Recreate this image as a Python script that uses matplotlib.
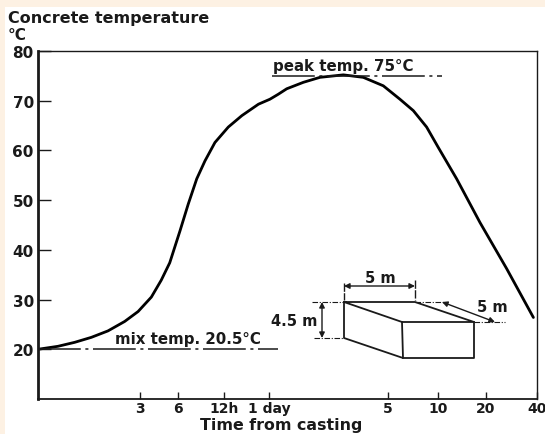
import numpy as np
import matplotlib
matplotlib.use('Agg')
import matplotlib.pyplot as plt
from matplotlib.patches import Rectangle

# curve, time in hours
hours = [1, 1.24, 1.485, 1.776, 2.125, 2.544, 2.94, 3.69, 4.42, 5.16, 6.18,
         7.0, 7.96, 9.01, 10.47, 12.82, 15.8, 20.4, 24.3, 27.2, 30.5, 38.2, 47.8,
         65.6, 85.9, 112.6, 141.6, 170.5, 205, 241, 314, 440, 636, 914]
temps = [20, 20.6, 21.4, 22.4, 23.7, 25.6, 27.6, 30.5, 33.9, 37.4, 43.8,
         49.2, 54.3, 57.9, 61.6, 64.7, 67, 69.3, 70.3, 71.3, 72.4, 73.7, 74.7,
         75.2, 74.7, 73, 70.3, 68, 64.7, 60.6, 54.3, 45.5, 36.2, 26.4]

tick_hours = [3, 6, 12, 24, 120, 240, 480, 960]
tick_labels = ['3', '6', '12h', '1 day', '5', '10', '20', '40']
y_ticks = [20, 30, 40, 50, 60, 70, 80]

mix_temp = 20
peak_temp = 75

# the printed time axis is not a clean log scale, so map it by its tick positions
scale_hours = np.log([1, 3, 6, 12, 24, 120, 240, 480, 960])
scale_pos = np.array([38, 140, 178, 224, 269, 388, 438, 486, 537.0])

def forward(v):
    return np.interp(np.log(np.maximum(v, 1e-3)), scale_hours, scale_pos)

def inverse(v):
    return np.exp(np.interp(v, scale_pos, scale_hours))

W, H = 545, 435
ink = '#1a1a1a'
font = 'DejaVu Sans'

fig = plt.figure(figsize=(W / 100, H / 100), dpi=100, facecolor='#fdf1e3')
fig.patches.append(Rectangle((5 / W, 0), 1, 1 - 8 / H, transform=fig.transFigure,
                             facecolor='white', edgecolor='none', zorder=-5))

ax = fig.add_axes([38 / W, 1 - 400 / H, (537 - 38) / W, (400 - 52) / H])
ax.patch.set_alpha(0)
ax.set_xscale('function', functions=(forward, inverse))
ax.set_xlim(1, 960)
ax.set_ylim(10, 80)
ax.plot(hours, temps, color='black', lw=2.0, solid_capstyle='round')

dash = (0, (28, 3, 2, 3))
ax.plot([1, 27], [mix_temp, mix_temp], color=ink, lw=1.1, ls=dash)
ax.plot([25, 254], [peak_temp, peak_temp], color=ink, lw=1.1, ls=dash)

ax.set_xticks(tick_hours)
ax.set_xticklabels(tick_labels)
ax.set_xticks([], minor=True)
ax.set_yticks(y_ticks)
ax.tick_params(axis='x', direction='in', length=5, width=1, pad=1.5, labelsize=10,
               colors=ink)
ax.tick_params(axis='y', direction='in', length=9, width=1, pad=3, labelsize=11,
               colors=ink)
for lab in ax.get_xticklabels() + ax.get_yticklabels():
    lab.set_family(font)
    lab.set_weight('bold')
    lab.set_clip_on(False)
ax.spines['left'].set_linewidth(2.0)
ax.spines['bottom'].set_linewidth(1.3)
ax.spines['top'].set_linewidth(1.0)
ax.spines['right'].set_linewidth(1.0)
for s in ax.spines.values():
    s.set_color(ink)

# overlay in pixel coordinates for the sketch and the free labels
ov = fig.add_axes([0, 0, 1, 1])
ov.set_xlim(0, W)
ov.set_ylim(H, 0)
ov.axis('off')

def label(x, y, s, size=11, ha='left'):
    ov.text(x, y, s, fontsize=size, ha=ha, va='center', color=ink, family=font,
            weight='bold')

label(8, 19, 'Concrete temperature', 11.5)
label(8, 36, '°C', 11)
label(115, 340, 'mix temp. 20.5°C', 10.8)
label(273, 67, 'peak temp. 75°C', 10.8)
label(281, 426, 'Time from casting', 11.4, ha='center')
label(380, 279, '5 m', 10.5, ha='center')
label(492, 308, '5 m', 10.5, ha='center')
label(317, 322, '4.5 m', 10.5, ha='right')

box_edges = [
    [(344, 303), (415, 303), (474, 323), (402, 323), (344, 303)],
    [(344, 303), (344, 339), (403, 359), (402, 323)],
    [(403, 359), (474, 359), (474, 323)],
]
for edge in box_edges:
    xs, ys = zip(*edge)
    ov.plot(xs, ys, color=ink, lw=1.3, solid_joinstyle='round')

for a, b in [((312, 303), (344, 303)), ((314, 339), (344, 339)),
             ((415, 303), (445, 303)), ((474, 323), (505, 323))]:
    ov.plot([a[0], b[0]], [a[1], b[1]], color=ink, lw=0.8, ls=(0, (5, 1.5, 1, 1.5)))
ov.plot([344, 344], [284, 301], color=ink, lw=1, ls=(0, (6, 1)))
ov.plot([415, 415], [281, 301], color=ink, lw=1, ls=(0, (6, 1)))

arrow = dict(arrowstyle='<|-|>', color=ink, lw=1, shrinkA=0, shrinkB=0, mutation_scale=8)
ov.annotate('', xy=(344, 287), xytext=(415, 287), arrowprops=arrow)
ov.annotate('', xy=(322, 303), xytext=(322, 339), arrowprops=arrow)
ov.annotate('', xy=(442, 303), xytext=(495, 323), arrowprops=arrow)

fig.savefig('out.png', dpi=100, facecolor=fig.get_facecolor())
